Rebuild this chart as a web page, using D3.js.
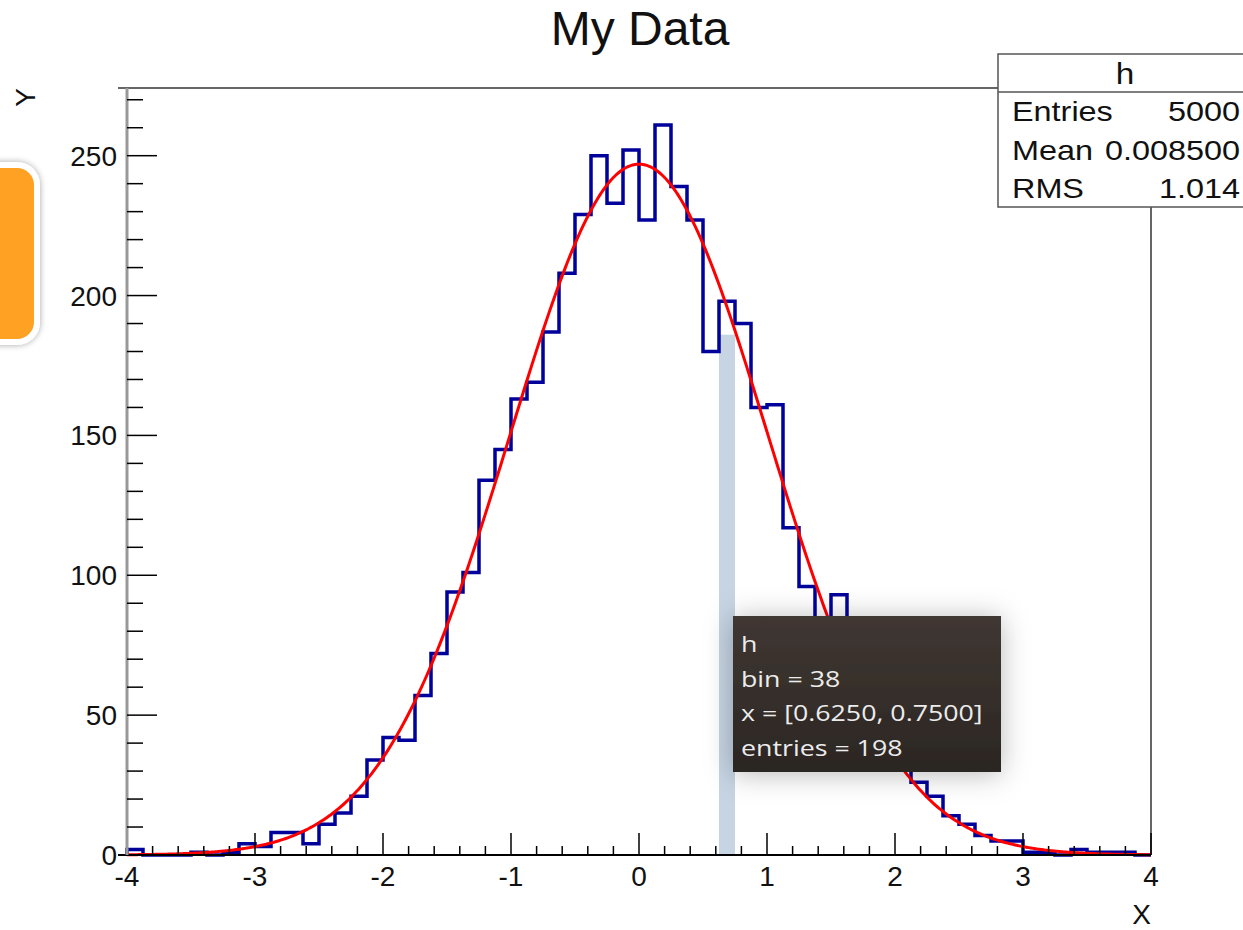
<!DOCTYPE html>
<html lang="en">
<head>
    <meta charset="UTF-8">
    <title>My Data</title>
    <script src="https://d3js.org/d3.v7.min.js"></script>
    <style>
        body { margin: 0; background: #fff; }
        text { font-family: "Liberation Sans", Arial, sans-serif; fill: #111; }
        .hist { fill: none; stroke: #00009a; stroke-width: 3.5px; }
        .fit { fill: none; stroke: #ff0000; stroke-width: 3px; }
        .tip text { font-family: "Open Sans", sans-serif; fill: #ececec; }
    </style>
</head>
<body>
    <script>
        // histogram h: 64 bins on [-4, 4]
        const binEdges = [-4, 4];
        const binCounts = [
            2, 0, 0, 0, 1, 0, 1, 4, 3, 8, 8, 4, 11, 15, 21, 34,
            42, 41, 57, 72, 94, 101, 134, 145, 163, 169, 187, 208,
            229, 250, 233, 252, 227, 261, 239, 227, 180, 198, 190,
            160, 161, 117, 96, 78, 93, 64, 50, 38, 31,
            26, 21, 14, 11, 7, 5, 5, 1, 1, 0, 2, 1, 1, 1, 0
        ];
        // gaus fit: constant, mean, sigma
        const fitParams = [247, 0.0, 1.01];
        const statsRows = [["Entries", "5000"], ["Mean", "0.008500"], ["RMS", "1.014"]];
        const xTicks = [-4, -3, -2, -1, 0, 1, 2, 3, 4];
        const yTicks = [0, 50, 100, 150, 200, 250];
        const hoverBin = 38;

        const W = 1243, H = 930;
        const frame = { left: 127, right: 1151, top: 88, bottom: 855 };

        const svg = d3.select("body").append("svg")
            .attr("width", W)
            .attr("height", H);

        const defs = svg.append("defs");
        const shadow = defs.append("filter").attr("id", "shadow")
            .attr("x", "-40%").attr("y", "-40%").attr("width", "180%").attr("height", "180%");
        shadow.append("feDropShadow").attr("dx", 0).attr("dy", 2)
            .attr("stdDeviation", 14).attr("flood-color", "#000").attr("flood-opacity", 0.28);
        const small = defs.append("filter").attr("id", "small")
            .attr("x", "-30%").attr("y", "-30%").attr("width", "160%").attr("height", "160%");
        small.append("feDropShadow").attr("dx", 0).attr("dy", 0)
            .attr("stdDeviation", 3).attr("flood-color", "#000").attr("flood-opacity", 0.35);
        const grad = defs.append("linearGradient").attr("id", "tipgrad")
            .attr("x1", 0).attr("y1", 0).attr("x2", 0).attr("y2", 1);
        grad.append("stop").attr("offset", "0%").attr("stop-color", "#403733");
        grad.append("stop").attr("offset", "100%").attr("stop-color", "#2b2622");

        const nBins = binCounts.length;
        const binW = (binEdges[1] - binEdges[0]) / nBins;

        const x = d3.scaleLinear().domain(binEdges).range([frame.left, frame.right]);
        const y = d3.scaleLinear().domain([0, 274.2]).range([frame.bottom, frame.top]);

        // orange side button
        svg.append("rect")
            .attr("x", -30).attr("y", 165).attr("width", 67).attr("height", 177)
            .attr("rx", 20)
            .attr("fill", "#ffa122").attr("stroke", "#fff").attr("stroke-width", 6)
            .attr("filter", "url(#small)");

        // title
        svg.append("text")
            .attr("x", 640).attr("y", 45)
            .attr("text-anchor", "middle")
            .style("font-size", "48px")
            .text("My Data");

        // hovered bin highlight
        const lo = binEdges[0] + (hoverBin - 1) * binW;
        svg.append("rect")
            .attr("x", x(lo))
            .attr("y", y(186))
            .attr("width", x(lo + binW) - x(lo))
            .attr("height", y(0) - y(186))
            .attr("fill", "#c6d4e3");

        // histogram outline
        const pts = [[binEdges[0], 0]];
        binCounts.forEach((v, i) => {
            const a = binEdges[0] + i * binW;
            pts.push([a, v], [a + binW, v]);
        });
        pts.push([binEdges[1], 0]);

        svg.append("path")
            .attr("class", "hist")
            .attr("d", d3.line().x(d => x(d[0])).y(d => y(d[1]))(pts));

        // fit curve
        const gaus = t => fitParams[0] * Math.exp(-0.5 * Math.pow((t - fitParams[1]) / fitParams[2], 2));
        const fx = d3.range(binEdges[0], binEdges[1] + 0.001, 0.02);
        svg.append("path")
            .attr("class", "fit")
            .attr("d", d3.line().x(d => x(d)).y(d => y(gaus(d))).curve(d3.curveBasis)(fx));

        // frame top and right
        svg.append("line")
            .attr("x1", 118).attr("x2", frame.right)
            .attr("y1", frame.top).attr("y2", frame.top)
            .attr("stroke", "#333").attr("stroke-width", 1.5);
        svg.append("line")
            .attr("x1", frame.right).attr("x2", frame.right)
            .attr("y1", frame.top).attr("y2", frame.bottom)
            .attr("stroke", "#333").attr("stroke-width", 1.5);

        // x axis, ticks pointing up into the frame
        const xAxis = svg.append("g");
        xAxis.append("line")
            .attr("x1", 118).attr("x2", frame.right)
            .attr("y1", frame.bottom).attr("y2", frame.bottom)
            .attr("stroke", "#000").attr("stroke-width", 2);
        const xMinor = d3.range(-4, 4.001, 0.2).filter(v => Math.abs(v - Math.round(v)) > 0.01);
        xAxis.selectAll(".xminor").data(xMinor).enter().append("line")
            .attr("x1", d => x(d)).attr("x2", d => x(d))
            .attr("y1", frame.bottom).attr("y2", frame.bottom - 9)
            .attr("stroke", "#000").attr("stroke-width", 1.5);
        xAxis.selectAll(".xmajor").data(xTicks.filter(d => d > -4)).enter().append("line")
            .attr("x1", d => x(d)).attr("x2", d => x(d))
            .attr("y1", frame.bottom).attr("y2", frame.bottom - 22)
            .attr("stroke", "#000").attr("stroke-width", 1.5);
        xAxis.selectAll(".xlab").data(xTicks).enter().append("text")
            .attr("x", d => x(d)).attr("y", 886)
            .attr("text-anchor", "middle")
            .style("font-size", "28px")
            .text(d => d);
        svg.append("text")
            .attr("x", frame.right).attr("y", 924)
            .attr("text-anchor", "end")
            .style("font-size", "28px")
            .text("X");

        // y axis
        const yAxis = svg.append("g");
        yAxis.append("line")
            .attr("x1", frame.left).attr("x2", frame.left)
            .attr("y1", frame.top).attr("y2", frame.bottom)
            .attr("stroke", "#999").attr("stroke-width", 3);
        const yMinor = d3.range(0, 275, 10).filter(v => v % 50 !== 0);
        yAxis.selectAll(".yminor").data(yMinor).enter().append("line")
            .attr("x1", frame.left).attr("x2", frame.left + 16)
            .attr("y1", d => y(d)).attr("y2", d => y(d))
            .attr("stroke", "#000").attr("stroke-width", 1.5);
        yAxis.selectAll(".ymajor").data(yTicks.filter(d => d > 0)).enter().append("line")
            .attr("x1", frame.left).attr("x2", frame.left + 30)
            .attr("y1", d => y(d)).attr("y2", d => y(d))
            .attr("stroke", "#000").attr("stroke-width", 1.5);
        yAxis.selectAll(".ylab").data(yTicks).enter().append("text")
            .attr("x", 117).attr("y", d => y(d) + 10)
            .attr("text-anchor", "end")
            .style("font-size", "28px")
            .text(d => d);
        svg.append("text")
            .attr("transform", "translate(35," + frame.top + ") rotate(-90)")
            .attr("text-anchor", "end")
            .style("font-size", "28px")
            .text("Y");

        // stats box
        const stats = svg.append("g");
        stats.append("rect")
            .attr("x", 998).attr("y", 54).attr("width", 256).attr("height", 153)
            .attr("fill", "#fff").attr("stroke", "#555").attr("stroke-width", 1.5);
        stats.append("line")
            .attr("x1", 998).attr("x2", 1254).attr("y1", 92).attr("y2", 92)
            .attr("stroke", "#555").attr("stroke-width", 1.5);
        stats.append("text")
            .attr("transform", "translate(1125,84) scale(1.15,1)")
            .attr("text-anchor", "middle")
            .style("font-size", "29px")
            .text("h");
        statsRows.forEach((r, i) => {
            const by = 121 + i * 38.5;
            stats.append("text")
                .attr("transform", "translate(1012," + by + ") scale(1.2,1)")
                .style("font-size", "27px")
                .text(r[0]);
            stats.append("text")
                .attr("transform", "translate(1240," + by + ") scale(1.2,1)")
                .attr("text-anchor", "end")
                .style("font-size", "27px")
                .text(r[1]);
        });

        // tooltip for the hovered bin
        const tipLines = [
            "h",
            "bin = " + hoverBin,
            "x = [" + lo.toFixed(4) + ", " + (lo + binW).toFixed(4) + "]",
            "entries = " + binCounts[hoverBin - 1]
        ];
        const tip = svg.append("g").attr("class", "tip");
        tip.append("rect")
            .attr("x", 733).attr("y", 616).attr("width", 268).attr("height", 156)
            .attr("fill", "url(#tipgrad)")
            .attr("filter", "url(#shadow)");
        tip.selectAll("text").data(tipLines).enter().append("text")
            .attr("transform", (d, i) => "translate(741," + (652 + i * 34.5) + ") scale(1.2,1)")
            .style("font-size", "22.3px")
            .text(d => d);
    </script>
</body>
</html>
